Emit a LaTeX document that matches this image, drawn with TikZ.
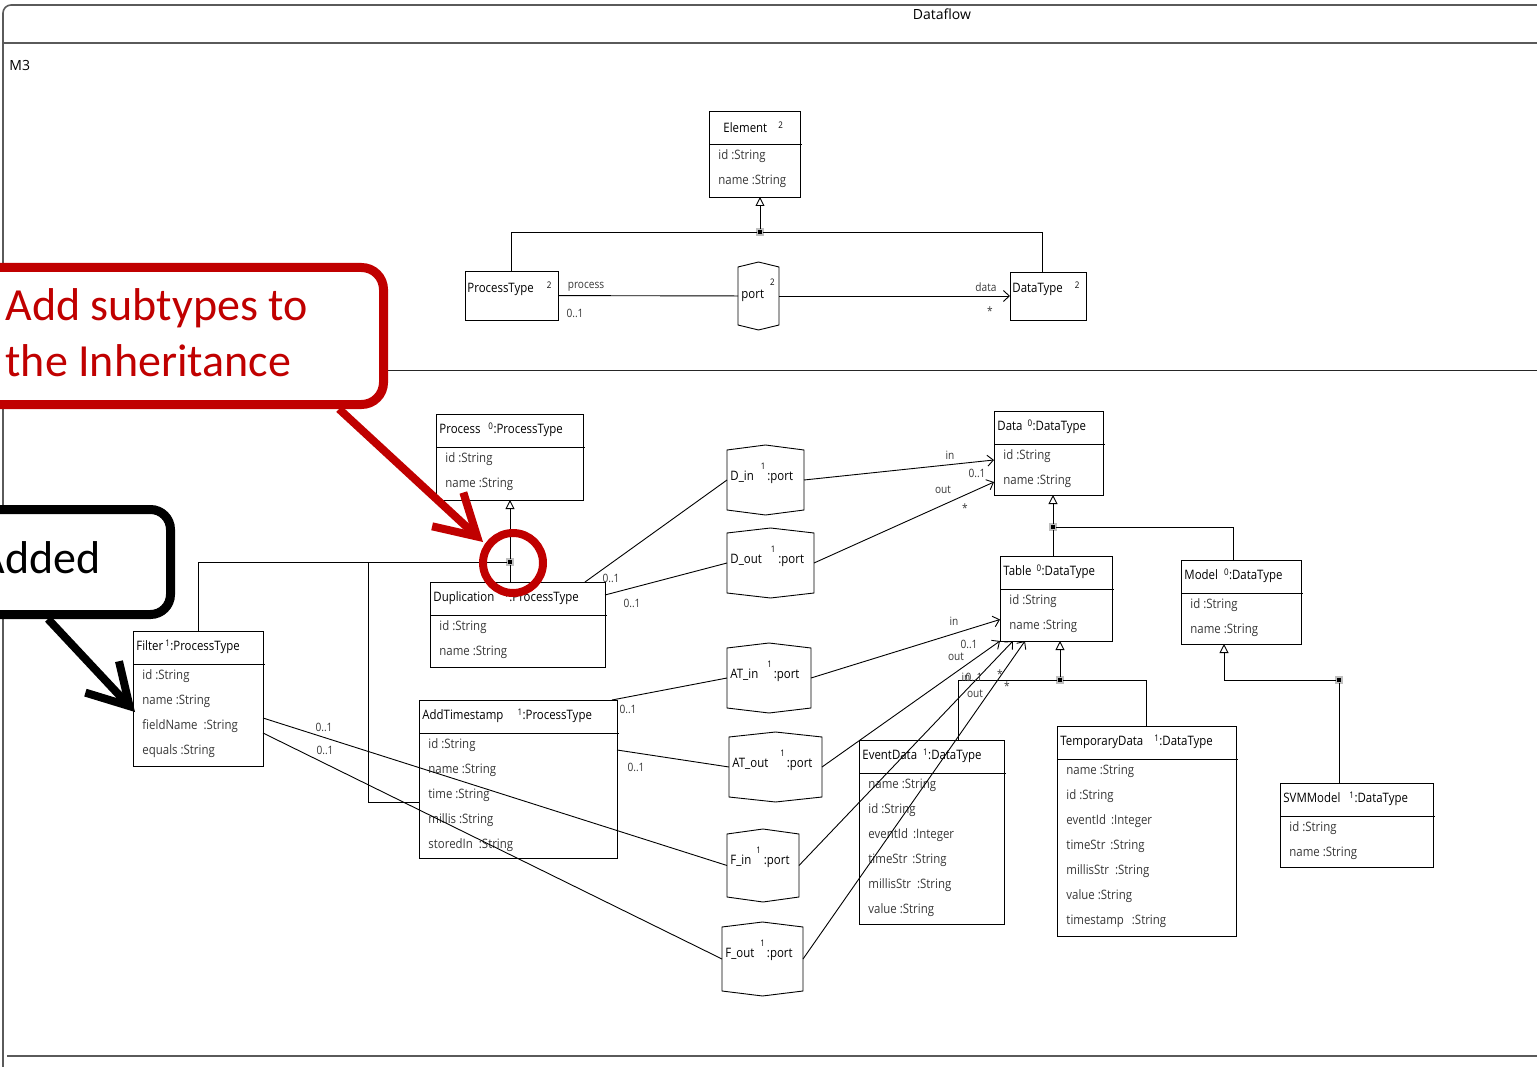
\documentclass[tikz,border=0pt]{standalone}
\usepackage{fontspec}
\setmainfont{Open Sans}
\newfontfamily\umlfont{Open Sans}[FakeStretch=0.88]
\newfontfamily\callfont{Carlito}
\usetikzlibrary{arrows.meta, positioning}
\definecolor{calloutred}{RGB}{192,0,0}
\definecolor{framegray}{RGB}{90,90,90}
\definecolor{labelgray}{RGB}{55,55,55}
\def\supfont{\fontsize{9}{9}\selectfont}
\newcommand{\psup}[1]{\raisebox{11pt}{\supfont #1}}
\tikzstyle{cls} = [draw, rectangle, anchor=north west, inner sep=0pt, outer sep=0pt]
\tikzstyle{portn} = [rectangle, anchor=north west, inner sep=0pt, outer sep=0pt]
\tikzstyle{hdr} = [anchor=west, inner sep=0pt, font=\umlfont\fontsize{13}{15}\selectfont]
\tikzstyle{attr} = [anchor=west, inner sep=0pt, text=labelgray, font=\umlfont\fontsize{13}{15}\selectfont]
\tikzstyle{mult} = [inner sep=0pt, text=labelgray, font=\umlfont\fontsize{11.5}{13}\selectfont]
\tikzstyle{gen} = [-{Triangle[open, length=9pt, width=9pt]}]
\tikzstyle{assoc} = [-{Straight Barb[length=6pt, width=11pt]}]
\tikzstyle{junc} = [rectangle, draw=black!25, fill=black, line width=1.6pt, minimum size=6pt, inner sep=0pt, outer sep=0pt]
\tikzstyle{callred} = [rectangle, anchor=north west, draw=calloutred, fill=white, line width=9pt, rounded corners=22pt]
\tikzstyle{callblk} = [rectangle, anchor=north west, draw=black, fill=white, line width=9pt, rounded corners=20pt]
\tikzstyle{calltext} = [anchor=base west, inner sep=0pt, font=\callfont\fontsize{46}{57}\selectfont]

% class box: [header x offset] name, x, y, width, height, header, attributes
\newcommand{\umlclass}[8][3]{%
  \node[cls, minimum width=#5, minimum height=#6] (#2) at (#3,#4) {};
  \draw ([yshift=-33pt]#2.north west) -- ([xshift=2pt,yshift=-33pt]#2.north east);
  \node[hdr] (#2-h) at ([xshift=#1pt,yshift=-16pt]#2.north west) {#7};
  \foreach \a [count=\i] in {#8}
    \node[attr] (#2-a\i) at ([xshift=9pt,yshift={-20-25*\i}]#2.north west) {\a};
}
% port box: name, x, y, width, height, label
\newcommand{\umlport}[6]{%
  \node[portn, minimum width=#4, minimum height=#5] (#1) at (#2,#3) {};
  \draw (#1.north west) -- ([yshift=5pt]#1.north) -- (#1.north east) -- (#1.south east)
    -- ([yshift=-5pt]#1.south) -- (#1.south west) -- cycle;
  \node[hdr] (#1-t) at ([xshift=3pt,yshift=-23pt]#1.north west) {#6};
}

\begin{document}
\begin{tikzpicture}[x=1pt, y=-1pt, line width=0.9pt]
  \useasboundingbox (0,0) rectangle (1537,1067);

  % frame
  \draw[framegray, line width=1.6pt, rounded corners=8pt] (3,1070) -- (3,5) -- (1545,5);
  \draw[framegray, line width=2.2pt] (3,43) -- (1545,43);
  \draw[black!85, line width=0.8pt] (3,370) -- (1545,370);
  \draw[framegray, line width=2.2pt] (7,1056) -- (1545,1056);
  \node[font=\fontsize{14}{16}\selectfont] (title) at (942,14) {Dataflow};
  \node[anchor=west, inner sep=0pt, font=\fontsize{14}{16}\selectfont] (m3) at (9,66) {M3};

  % meta level
  \umlclass[14]{element}{709}{111}{91}{86}{Element\hspace{11pt}\textsuperscript{2}}{id :String, name :String}
  \node[cls, minimum width=93, minimum height=49] (ptype) at (465,271) {};
  \node[hdr] (ptype-h) at (467,289) {ProcessType\hspace{13pt}\textsuperscript{2}};
  \node[cls, minimum width=76, minimum height=48] (dtype) at (1010,272) {};
  \node[hdr] (dtype-h) at (1012,289) {DataType\hspace{12pt}\textsuperscript{2}};
  \umlport{tport}{738}{267}{41}{58}{port\hspace{6pt}\raisebox{13pt}{\supfont 2}}

  \node[junc] (j1) at (760,232) {};
  \draw[gen] (j1) -- (j1 |- element.south);
  \draw (j1) -| (ptype);
  \draw (j1) -| ([xshift=-6pt]dtype.north);
  \draw (ptype) -- (tport);
  \draw[assoc] (tport) -- (dtype);

  % model level
  \umlclass{process}{436}{414}{147}{86}{Process\hspace{8pt}\textsuperscript{0}:ProcessType}{id :String, name :String}
  \umlclass{dup}{430}{582}{175}{85}{Duplication\hspace{10pt}\textsuperscript{1}:ProcessType}{id :String, name :String}
  \umlclass{filter}{133}{631}{130}{135}{Filter\hspace{2pt}\textsuperscript{1}:ProcessType}{id :String, name :String, fieldName\hspace{6pt}:String, equals :String}
  \umlclass{addts}{419}{700}{198}{158}{AddTimestamp\hspace{14pt}\textsuperscript{1}:ProcessType}{id :String, name :String, time :String, millis :String, storedIn\hspace{6pt}:String}
  \umlclass{data}{994}{411}{109}{84}{Data\hspace{5pt}\textsuperscript{0}:DataType}{id :String, name :String}
  \umlclass{table}{1000}{556}{112}{85}{Table\hspace{5pt}\textsuperscript{0}:DataType}{id :String, name :String}
  \umlclass{model}{1181}{560}{120}{84}{Model\hspace{6pt}\textsuperscript{0}:DataType}{id :String, name :String}
  \umlclass{evd}{859}{740}{145}{184}{EventData\hspace{6pt}\textsuperscript{1}:DataType}{name :String, id :String, eventId\hspace{5pt}:Integer, timeStr\hspace{5pt}:String, millisStr\hspace{6pt}:String, value :String}
  \umlclass{tmp}{1057}{726}{179}{210}{TemporaryData\hspace{11pt}\textsuperscript{1}:DataType}{name :String, id :String, eventId\hspace{5pt}:Integer, timeStr\hspace{5pt}:String, millisStr\hspace{6pt}:String, value :String, timestamp\hspace{8pt}:String}
  \umlclass{svm}{1280}{783}{153}{84}{SVMModel\hspace{9pt}\textsuperscript{1}:DataType}{id :String, name :String}

  \umlport{din}{727}{450}{77}{60}{D\_in\hspace{7pt}\psup{1}\hspace{2pt}:port}
  \umlport{dout}{727}{533}{87}{60}{D\_out\hspace{9pt}\psup{1}\hspace{3pt}:port}
  \umlport{atin}{727}{648}{84}{60}{AT\_in\hspace{9pt}\psup{1}\hspace{2pt}:port}
  \umlport{atout}{729}{737}{93}{60}{AT\_out\hspace{12pt}\psup{1}\hspace{2pt}:port}
  \umlport{fin}{727}{834}{72}{63}{F\_in\hspace{5pt}\psup{1}\hspace{3pt}:port}
  \umlport{fout}{722}{927}{81}{64}{F\_out\hspace{6pt}\psup{1}\hspace{2pt}:port}

  % inheritance
  \node[junc] (j2) at (510,562) {};
  \draw[gen] (j2) -- (j2 |- process.south);
  \draw (j2) -- (j2 |- dup.north);
  \draw (j2) -| (filter);
  \coordinate (br) at (368,562);
  \draw (br) |- ([yshift=-23pt]addts.west);

  \node[junc] (j3) at (1053,527) {};
  \draw[gen] (j3) -- (j3 |- data.south);
  \draw (j3) -- (j3 |- table.north);
  \draw (j3) -| ([xshift=-8pt]model.north);

  \node[junc] (j4) at (1060,680) {};
  \draw[gen] (j4) -- (j4 |- table.south);
  \draw (j4) -| ([xshift=27pt]evd.north);
  \draw (j4) -| (tmp.north);

  \node[junc] (j5) at (1339,680) {};
  \draw[gen] (j5) -| ([xshift=-17pt]model.south);
  \draw (j5) -- (j5 |- svm.north);

  % ports
  \draw ([xshift=-20pt]dup.north east) -- (din.west);
  \draw ([yshift=-13pt]dup.north east) -- (dout.west);
  \draw[assoc] (din.east) -- ([yshift=-7pt]data.west);
  \draw[assoc] (dout.east) -- ([yshift=-29pt]data.west);
  \draw ([xshift=-5pt]addts.north east) -- (atin.west);
  \draw ([yshift=-50pt]addts.north east) -- (atout.west);
  \draw[assoc] (atin.east) -- ([yshift=-21pt]table.west);
  \draw[assoc] (atout.east) -- (table.south west);
  \draw[assoc] (fin.east) -- ([xshift=13pt]table.south west);
  \draw[assoc] (fout.east) -- ([xshift=25pt]table.south west);
  \draw ([yshift=-87pt]filter.north east) -- (fin.west);
  \draw ([yshift=-102pt]filter.north east) -- (fout.west);

  \foreach \x/\y/\t [count=\k] in {586/287/process, 575/313/0..1, 986/287/data, 990/311/*,
      611/578/0..1, 632/603/0..1, 950/455/in, 977/473/0..1, 943/490/out, 965/508/*,
      628/709/0..1, 636/767/0..1, 954/621/in, 969/644/0..1, 956/657/out,
      966/677/in, 974/677/0..1, 975/694/out, 1000/674/*, 1007/686/*,
      324/727/0..1, 325/750/0..1}
    \node[mult] (lbl\k) at (\x,\y) {\t};

  % callouts
  \node[callred, minimum width=460, minimum height=137] (callsub) at (-81,263) {};
  \node[calltext, text=calloutred] (callsub-a) at (5,320) {Add subtypes to};
  \node[calltext, text=calloutred] (callsub-b) at (5,377) {the Inheritance};
  \coordinate (redtip) at (483,542);
  \draw[calloutred, line width=8pt, -{Straight Barb[length=40pt, width=46pt]}] ([xshift=-49pt]callsub.south east) -- (redtip);
  \node[draw=calloutred, line width=8pt, circle, minimum size=60pt, inner sep=0pt] (hlcircle) at (513,563) {};

  \node[callblk, minimum width=246, minimum height=105] (calladd) at (-80,505) {};
  \node[calltext] (calladd-t) at (-22,573) {Added};
  \coordinate (blktip) at (135,712);
  \draw[line width=8pt, -{Straight Barb[length=40pt, width=46pt]}] ([xshift=128pt]calladd.south west) -- (blktip);
\end{tikzpicture}
\end{document}
